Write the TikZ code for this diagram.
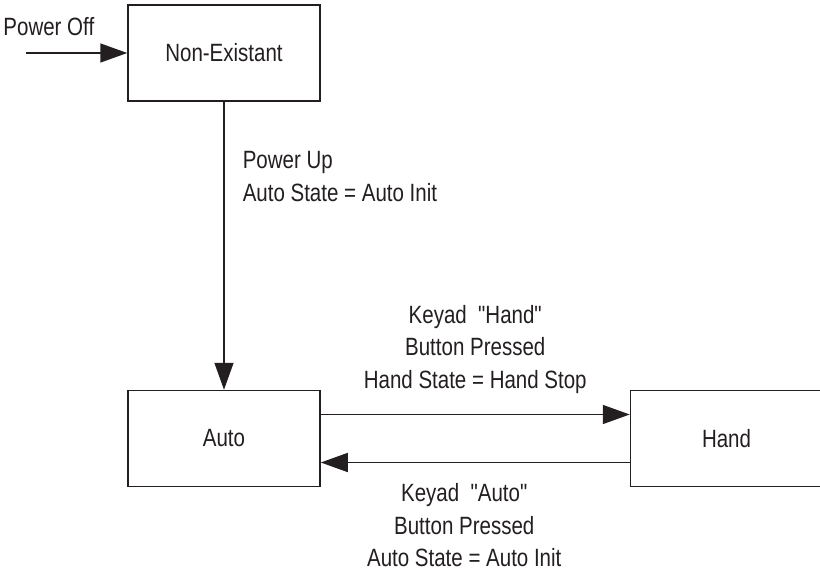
\documentclass[tikz,border=0pt]{standalone}
\usepackage{fontspec}
\setmainfont{Liberation Sans}[FakeStretch=0.82, Ligatures=TeXOff]
\usepackage{xcolor}
\usepackage{tikz}
\usetikzlibrary{arrows.meta,positioning}
\definecolor{ink}{RGB}{35,31,32}

\begin{document}
\begin{tikzpicture}[x=1pt, y=1pt,
  state/.style={rectangle, draw=ink, line width=1.5pt, minimum width=192pt, minimum height=96pt, inner sep=0pt, text=ink},
  lbl/.style={text=ink, align=center, inner sep=0pt},
  line/.style={draw=ink, line width=1.5pt, -{Triangle[length=27pt, width=19pt]}}]
  \fontsize{25}{32.5}\selectfont
  \useasboundingbox (0,0) rectangle (820,-570);

  % Nodes
  \node [state] (nonexist) at (224,-53) {Non-Existant};
  \node [state, below=288pt of nonexist] (auto) {Auto};
  \node [state, right=309pt of auto] (hand) {Hand};
  \coordinate [left=101pt of nonexist.west] (poweroff);
  \node [lbl, anchor=west] (offlbl) at ([xshift=-23pt, yshift=26pt]poweroff) {Power Off};

  % Edges
  \path [line] (poweroff) -- (nonexist);
  \path [line] (nonexist) -- node[pos=0.26, right=18pt, lbl, align=left] {Power Up\\Auto State = Auto Init} (auto);
  \path [line] ([yshift=24pt]auto.east) -- node[midway, yshift=65pt, lbl] {Keyad\ \ "Hand"\\Button Pressed\\Hand State = Hand Stop} ([yshift=24pt]hand.west);
  \path [line] ([yshift=-24pt]hand.west) -- node[midway, yshift=-63pt, xshift=-11pt, lbl] {Keyad\ \ "Auto"\\Button Pressed\\Auto State = Auto Init} ([yshift=-24pt]auto.east);

\end{tikzpicture}
\end{document}
